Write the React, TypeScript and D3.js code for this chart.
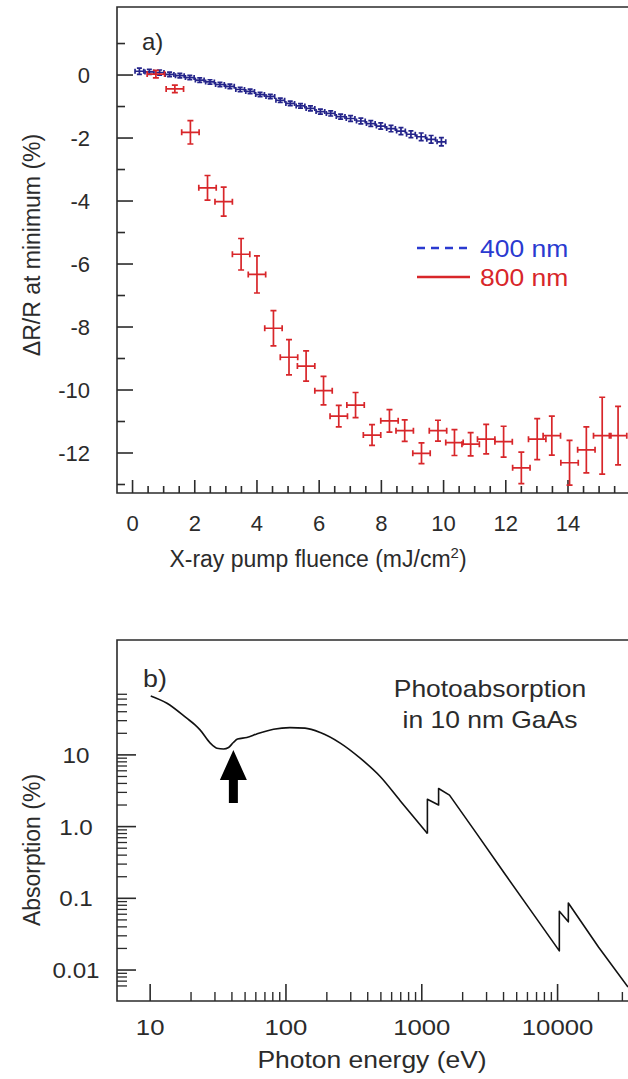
import React, { useEffect, useRef } from 'react';
import * as d3 from 'd3';

// panel a) 400 nm probe
const fluence400 = [0.22, 0.54, 0.87, 1.19, 1.52, 1.84, 2.16, 2.49, 2.81, 3.13, 3.46, 3.78, 4.1, 4.43, 4.75, 5.07, 5.4, 5.72, 6.04, 6.37, 6.69, 7.01, 7.34, 7.66, 7.98, 8.31, 8.63, 8.95, 9.28, 9.6, 9.93];
const dr400 = [0.12, 0.1, 0.08, 0.02, -0.02, -0.08, -0.16, -0.22, -0.3, -0.36, -0.46, -0.52, -0.62, -0.68, -0.8, -0.9, -0.98, -1.06, -1.16, -1.22, -1.32, -1.38, -1.46, -1.54, -1.62, -1.7, -1.78, -1.88, -1.96, -2.04, -2.12];
const dr400Err = [0.1, 0.08, 0.08, 0.07, 0.07, 0.07, 0.07, 0.07, 0.07, 0.07, 0.07, 0.07, 0.07, 0.07, 0.07, 0.07, 0.07, 0.08, 0.08, 0.08, 0.08, 0.09, 0.09, 0.09, 0.1, 0.1, 0.11, 0.11, 0.12, 0.12, 0.13];
const fluence400Err = 0.14;

// panel a) 800 nm probe
const fluence800 = [0.75, 1.36, 1.86, 2.41, 2.93, 3.49, 4.0, 4.53, 5.03, 5.58, 6.14, 6.63, 7.17, 7.7, 8.26, 8.75, 9.29, 9.82, 10.35, 10.87, 11.37, 11.93, 12.5, 13.01, 13.48, 14.05, 14.59, 15.1, 15.61];
const dr800 = [0.03, -0.44, -1.82, -3.58, -4.02, -5.69, -6.33, -8.04, -8.96, -9.24, -10.02, -10.83, -10.48, -11.43, -10.98, -11.29, -12.01, -11.29, -11.67, -11.72, -11.56, -11.64, -12.47, -11.56, -11.45, -12.31, -11.9, -11.45, -11.45];
const dr800Err = [0.12, 0.12, 0.37, 0.39, 0.46, 0.5, 0.59, 0.56, 0.56, 0.48, 0.45, 0.34, 0.4, 0.33, 0.36, 0.34, 0.33, 0.33, 0.41, 0.37, 0.47, 0.49, 0.5, 0.65, 0.62, 0.71, 0.73, 1.22, 0.93];
const fluence800Err = 0.28;

const topXTicks = [0, 2, 4, 6, 8, 10, 12, 14];
const topYTicks = [0, -2, -4, -6, -8, -10, -12];
const topYMinor = [1, -1, -3, -5, -7, -9, -11, -13];

// panel b) photoabsorption of 10 nm GaAs
const energy = [10.1, 13.3, 18.6, 21.4, 23.3, 27.7, 31, 34.7, 37.8, 41, 44, 51.5, 61, 81, 107, 138, 179, 251, 352, 494, 693, 1100, 1100, 1330, 1330, 1600, 2500, 4000, 6300, 10300, 10300, 12000, 12000, 20000, 33000];
const absorption = [66.5, 52.6, 32.5, 26.2, 22.3, 14.6, 12.4, 12.1, 12.7, 14.9, 16.6, 17.5, 19.6, 22.8, 24, 23.6, 20.5, 14.6, 9.0, 5.0, 2.3, 0.8, 2.4, 2.0, 3.4, 2.75, 0.83, 0.233, 0.069, 0.0185, 0.066, 0.047, 0.086, 0.021, 0.0058];
const smoothUpTo = 22; // points before the first absorption edge are a smooth curve

const bottomXTicks = [10, 100, 1000, 10000];
const bottomXLabels = ['10', '100', '1000', '10000'];
const bottomYTicks = [10, 1, 0.1, 0.01];
const bottomYLabels = ['10', '1.0', '0.1', '0.01'];

const arrowEnergy = 41;

const FONT = "'Liberation Sans', Arial, Helvetica, sans-serif";
const INK = '#2b2b2b';
const BLUE = '#24248a';
const RED = '#d8262a';

export default function App() {
  const ref = useRef<SVGSVGElement>(null);

  useEffect(() => {
    const svg = d3.select(ref.current);
    svg.selectAll('*').remove();
    svg.style('font-family', FONT);

    // ---------- panel a ----------
    const x = d3.scaleLinear().domain([-0.5, 16]).range([117, 630.2]);
    const y = d3.scaleLinear().domain([-13.27, 2.16]).range([493, 7]);

    const a = svg.append('g');

    // frame
    a.append('path')
      .attr('d', `M${x.range()[1] + 10},${y(2.16)}H${x(-0.5)}V${y(-13.27)}H${x.range()[1] + 10}`)
      .attr('fill', 'none')
      .attr('stroke', INK)
      .attr('stroke-width', 1.6);

    // y ticks (inward)
    a.selectAll('.yt')
      .data(topYTicks)
      .enter()
      .append('line')
      .attr('x1', x(-0.5))
      .attr('x2', x(-0.5) + 16)
      .attr('y1', (d) => y(d))
      .attr('y2', (d) => y(d))
      .attr('stroke', INK)
      .attr('stroke-width', 1.6);
    a.selectAll('.ym')
      .data(topYMinor)
      .enter()
      .append('line')
      .attr('x1', x(-0.5))
      .attr('x2', x(-0.5) + 8)
      .attr('y1', (d) => y(d))
      .attr('y2', (d) => y(d))
      .attr('stroke', INK)
      .attr('stroke-width', 1.6);
    a.selectAll('.yl')
      .data(topYTicks)
      .enter()
      .append('text')
      .attr('x', 90)
      .attr('y', (d) => y(d) + 8)
      .attr('text-anchor', 'end')
      .attr('font-size', 22)
      .attr('fill', INK)
      .text((d) => String(d));

    // x ticks
    const xMinor = d3.range(0, 16, 0.5).filter((d) => !topXTicks.includes(d));
    a.selectAll('.xt')
      .data(topXTicks)
      .enter()
      .append('line')
      .attr('x1', (d) => x(d))
      .attr('x2', (d) => x(d))
      .attr('y1', y(-13.27))
      .attr('y2', y(-13.27) - 13)
      .attr('stroke', INK)
      .attr('stroke-width', 1.6);
    a.selectAll('.xm')
      .data(xMinor)
      .enter()
      .append('line')
      .attr('x1', (d) => x(d))
      .attr('x2', (d) => x(d))
      .attr('y1', y(-13.27))
      .attr('y2', y(-13.27) - 7)
      .attr('stroke', INK)
      .attr('stroke-width', 1.6);
    a.selectAll('.xl')
      .data(topXTicks)
      .enter()
      .append('text')
      .attr('x', (d) => x(d))
      .attr('y', 531)
      .attr('text-anchor', 'middle')
      .attr('font-size', 22)
      .attr('fill', INK)
      .text((d) => String(d));

    const xt = a.append('text')
      .attr('x', 318)
      .attr('y', 567)
      .attr('text-anchor', 'middle')
      .attr('font-size', 23)
      .attr('fill', INK);
    xt.append('tspan').text('X-ray pump fluence (mJ/cm');
    xt.append('tspan').attr('dy', -9).attr('font-size', 15).text('2');
    xt.append('tspan').attr('dy', 9).text(')');

    a.append('text')
      .attr('transform', 'translate(40,245) rotate(-90)')
      .attr('text-anchor', 'middle')
      .attr('font-size', 23)
      .attr('fill', INK)
      .text('ΔR/R at minimum (%)');

    a.append('text')
      .attr('x', 142)
      .attr('y', 50)
      .attr('font-size', 24)
      .attr('fill', INK)
      .text('a)');

    // error-bar crosses
    const crosses = (
      xs: number[],
      ys: number[],
      ey: number[],
      ex: number,
      color: string,
      cap: number
    ) => {
      const g = a.append('g').attr('stroke', color).attr('stroke-width', 1.7).attr('fill', 'none');
      xs.forEach((xv, i) => {
        const cx = x(xv);
        const cy = y(ys[i]);
        const y0 = y(ys[i] + ey[i]);
        const y1 = y(ys[i] - ey[i]);
        const x0 = x(xv - ex);
        const x1 = x(xv + ex);
        g.append('path').attr(
          'd',
          `M${cx},${y0}V${y1}M${cx - cap},${y0}H${cx + cap}M${cx - cap},${y1}H${cx + cap}` +
            `M${x0},${cy}H${x1}M${x0},${cy - cap}V${cy + cap}M${x1},${cy - cap}V${cy + cap}`
        );
      });
    };
    crosses(fluence400, dr400, dr400Err, fluence400Err, BLUE, 2.5);
    crosses(fluence800, dr800, dr800Err, fluence800Err, RED, 3);

    // legend
    const lg = a.append('g');
    lg.append('line')
      .attr('x1', 417).attr('x2', 470).attr('y1', 248).attr('y2', 248)
      .attr('stroke', '#2a3ad0').attr('stroke-width', 2.4).attr('stroke-dasharray', '8,6');
    lg.append('line')
      .attr('x1', 417).attr('x2', 470).attr('y1', 277).attr('y2', 277)
      .attr('stroke', RED).attr('stroke-width', 2.4);
    lg.append('text')
      .attr('transform', 'translate(480,257) scale(1.15,1)')
      .attr('font-size', 23).attr('fill', '#2a3ad0').text('400 nm');
    lg.append('text')
      .attr('transform', 'translate(480,286) scale(1.15,1)')
      .attr('font-size', 23).attr('fill', RED).text('800 nm');

    // ---------- panel b ----------
    const bx = d3.scaleLog().domain([5.7, 33000]).range([117, 628]);
    const by = d3.scaleLog().domain([0.0037, 400]).range([1001, 640]);
    const b = svg.append('g');

    b.append('path')
      .attr('d', `M640,${by(400)}H${bx(5.7)}V${by(0.0037)}H640`)
      .attr('fill', 'none')
      .attr('stroke', INK)
      .attr('stroke-width', 1.6);

    const yMinorB = by.ticks().filter((d) => d >= 0.006 && d <= 70 && !bottomYTicks.includes(d));
    b.selectAll('.bym')
      .data(yMinorB)
      .enter()
      .append('line')
      .attr('x1', bx(5.7))
      .attr('x2', bx(5.7) + 10)
      .attr('y1', (d) => by(d))
      .attr('y2', (d) => by(d))
      .attr('stroke', INK)
      .attr('stroke-width', 1.3);
    b.selectAll('.byt')
      .data(bottomYTicks)
      .enter()
      .append('line')
      .attr('x1', bx(5.7))
      .attr('x2', bx(5.7) + 19)
      .attr('y1', (d) => by(d))
      .attr('y2', (d) => by(d))
      .attr('stroke', INK)
      .attr('stroke-width', 1.6);
    b.selectAll('.byl')
      .data(bottomYTicks)
      .enter()
      .append('text')
      .attr('transform', (d) => `translate(76,${by(d) + 8}) scale(1.1,1)`)
      .attr('text-anchor', 'middle')
      .attr('font-size', 22)
      .attr('fill', INK)
      .text((d, i) => bottomYLabels[i]);

    const xMinorB = bx.ticks().filter((d) => d >= 10 && d <= 33000 && !bottomXTicks.includes(d));
    b.selectAll('.bxm')
      .data(xMinorB)
      .enter()
      .append('line')
      .attr('x1', (d) => bx(d))
      .attr('x2', (d) => bx(d))
      .attr('y1', by(0.0037))
      .attr('y2', by(0.0037) - 9)
      .attr('stroke', INK)
      .attr('stroke-width', 1.4);
    b.selectAll('.bxt')
      .data(bottomXTicks)
      .enter()
      .append('line')
      .attr('x1', (d) => bx(d))
      .attr('x2', (d) => bx(d))
      .attr('y1', by(0.0037))
      .attr('y2', by(0.0037) - 17)
      .attr('stroke', INK)
      .attr('stroke-width', 1.6);
    b.selectAll('.bxl')
      .data(bottomXTicks)
      .enter()
      .append('text')
      .attr('transform', (d) => `translate(${bx(d)},1035) scale(1.12,1)`)
      .attr('text-anchor', 'middle')
      .attr('font-size', 23)
      .attr('fill', INK)
      .text((d, i) => bottomXLabels[i]);

    b.append('text')
      .attr('transform', 'translate(372,1068) scale(1.15,1)')
      .attr('text-anchor', 'middle')
      .attr('font-size', 23)
      .attr('fill', INK)
      .text('Photon energy (eV)');

    b.append('text')
      .attr('transform', 'translate(40,850) rotate(-90)')
      .attr('text-anchor', 'middle')
      .attr('font-size', 23)
      .attr('fill', INK)
      .text('Absorption (%)');

    b.append('text')
      .attr('transform', 'translate(143,687) scale(1.12,1)')
      .attr('font-size', 24)
      .attr('fill', INK)
      .text('b)');

    b.append('text')
      .attr('transform', 'translate(490,697) scale(1.15,1)')
      .attr('text-anchor', 'middle')
      .attr('font-size', 23)
      .attr('fill', INK)
      .text('Photoabsorption');
    b.append('text')
      .attr('transform', 'translate(490,728) scale(1.15,1)')
      .attr('text-anchor', 'middle')
      .attr('font-size', 23)
      .attr('fill', INK)
      .text('in 10 nm GaAs');

    const idx = d3.range(energy.length);
    const smooth = d3
      .line<number>()
      .x((i) => bx(energy[i]))
      .y((i) => by(absorption[i]))
      .curve(d3.curveMonotoneX);
    const straight = d3
      .line<number>()
      .x((i) => bx(energy[i]))
      .y((i) => by(absorption[i]));
    b.append('path')
      .datum(idx.slice(0, smoothUpTo))
      .attr('d', smooth)
      .attr('fill', 'none')
      .attr('stroke', '#111')
      .attr('stroke-width', 1.6);
    b.append('path')
      .datum(idx.slice(smoothUpTo - 1))
      .attr('d', straight)
      .attr('fill', 'none')
      .attr('stroke', '#111')
      .attr('stroke-width', 1.6)
      .attr('stroke-linejoin', 'round');

    // arrow marking the probe photon energy
    const ax = bx(arrowEnergy);
    const tip = 750;
    b.append('path')
      .attr(
        'd',
        `M${ax},${tip}L${ax + 13.5},${tip + 30}H${ax + 4.5}V${tip + 53}H${ax - 4.5}V${tip + 30}H${ax - 13.5}Z`
      )
      .attr('fill', '#000');
  }, []);

  return <svg ref={ref} width={628} height={1079} style={{ display: 'block', position: 'absolute', left: 0, top: 0 }} />;
}
